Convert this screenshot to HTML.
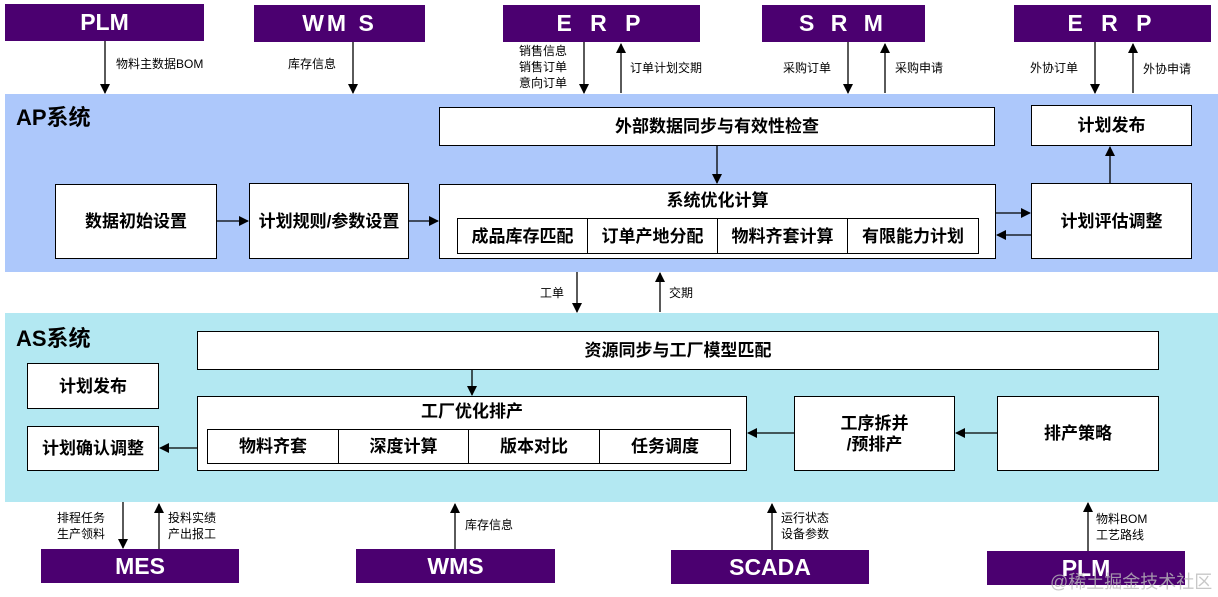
<!DOCTYPE html>
<html><head><meta charset="utf-8"><style>
body{margin:0;width:1218px;height:597px;position:relative;background:#fff;overflow:hidden;font-family:"Liberation Sans","Noto Sans CJK SC",sans-serif;}
.a{position:absolute;box-sizing:border-box;}
.p{background:#4b0070;color:#fff;font-weight:bold;font-size:23px;display:flex;align-items:center;justify-content:center;}
.b{background:#fff;border:1.5px solid #000;display:flex;align-items:center;justify-content:center;font-weight:bold;font-size:17px;color:#000;text-align:center;line-height:21px;}
.t{font-size:12px;color:#000;line-height:16px;white-space:nowrap;}
.h{font-weight:bold;font-size:22px;color:#000;}
</style></head><body>
<div class="a" style="left:5px;top:94px;width:1213px;height:178px;background:#adc8fb"></div>
<div class="a" style="left:5px;top:313px;width:1213px;height:189px;background:#b3e8f2"></div>
<div class="a h" style="left:16px;top:100px">AP系统</div>
<div class="a h" style="left:16px;top:321px">AS系统</div>

<div class="a p" style="left:5px;top:4px;width:199px;height:37px">PLM</div>
<div class="a p" style="left:254px;top:5px;width:171px;height:37px;letter-spacing:3px">WM S</div>
<div class="a p" style="left:503px;top:5px;width:197px;height:37px;letter-spacing:6px">E R P</div>
<div class="a p" style="left:762px;top:5px;width:163px;height:37px;letter-spacing:5px">S R M</div>
<div class="a p" style="left:1014px;top:5px;width:197px;height:37px;letter-spacing:6px">E R P</div>

<div class="a p" style="left:41px;top:549px;width:198px;height:34px">MES</div>
<div class="a p" style="left:356px;top:549px;width:199px;height:34px">WMS</div>
<div class="a p" style="left:671px;top:550px;width:198px;height:34px">SCADA</div>
<div class="a p" style="left:987px;top:551px;width:198px;height:34px">PLM</div>

<div class="a b" style="left:439px;top:107px;width:556px;height:39px">外部数据同步与有效性检查</div>
<div class="a b" style="left:1031px;top:105px;width:161px;height:41px">计划发布</div>
<div class="a b" style="left:55px;top:184px;width:162px;height:75px">数据初始设置</div>
<div class="a b" style="left:249px;top:183px;width:160px;height:76px">计划规则/参数设置</div>
<div class="a b" style="left:439px;top:184px;width:557px;height:75px;align-items:flex-start;padding-top:5px">系统优化计算</div>
<div class="a b" style="left:457px;top:218px;width:131px;height:36px">成品库存匹配</div>
<div class="a b" style="left:587px;top:218px;width:131px;height:36px">订单产地分配</div>
<div class="a b" style="left:717px;top:218px;width:131px;height:36px">物料齐套计算</div>
<div class="a b" style="left:847px;top:218px;width:132px;height:36px">有限能力计划</div>
<div class="a b" style="left:1031px;top:183px;width:161px;height:76px">计划评估调整</div>

<div class="a b" style="left:197px;top:331px;width:962px;height:39px">资源同步与工厂模型匹配</div>
<div class="a b" style="left:27px;top:363px;width:132px;height:46px">计划发布</div>
<div class="a b" style="left:27px;top:426px;width:132px;height:45px">计划确认调整</div>
<div class="a b" style="left:197px;top:396px;width:550px;height:75px;align-items:flex-start;padding-top:4px">工厂优化排产</div>
<div class="a b" style="left:207px;top:429px;width:132px;height:35px">物料齐套</div>
<div class="a b" style="left:338px;top:429px;width:131px;height:35px">深度计算</div>
<div class="a b" style="left:468px;top:429px;width:132px;height:35px">版本对比</div>
<div class="a b" style="left:599px;top:429px;width:132px;height:35px">任务调度</div>
<div class="a b" style="left:794px;top:396px;width:161px;height:75px">工序拆并<br>/预排产</div>
<div class="a b" style="left:997px;top:396px;width:162px;height:75px">排产策略</div>

<div class="a t" style="left:116px;top:56px">物料主数据BOM</div>
<div class="a t" style="left:288px;top:56px">库存信息</div>
<div class="a t" style="left:519px;top:43px">销售信息<br>销售订单<br>意向订单</div>
<div class="a t" style="left:630px;top:60px">订单计划交期</div>
<div class="a t" style="left:783px;top:60px">采购订单</div>
<div class="a t" style="left:895px;top:60px">采购申请</div>
<div class="a t" style="left:1030px;top:60px">外协订单</div>
<div class="a t" style="left:1143px;top:61px">外协申请</div>
<div class="a t" style="left:540px;top:285px">工单</div>
<div class="a t" style="left:669px;top:285px">交期</div>
<div class="a t" style="left:57px;top:510px">排程任务<br>生产领料</div>
<div class="a t" style="left:168px;top:510px">投料实绩<br>产出报工</div>
<div class="a t" style="left:465px;top:517px">库存信息</div>
<div class="a t" style="left:781px;top:510px">运行状态<br>设备参数</div>
<div class="a t" style="left:1096px;top:511px">物料BOM<br>工艺路线</div>
<div class="a" style="left:1050px;top:568px;font-size:18px;color:#bbb;opacity:.8;white-space:nowrap">@稀土掘金技术社区</div>

<svg class="a" style="left:0;top:0" width="1218" height="597">
<defs><marker id="m" markerWidth="10" markerHeight="10" refX="9" refY="5" orient="auto" markerUnits="userSpaceOnUse"><path d="M0,0L10,5L0,10z" fill="#000"/></marker></defs>
<g stroke="#000" stroke-width="1.3" fill="none" marker-end="url(#m)">
<line x1="105" y1="41" x2="105" y2="93"/>
<line x1="353" y1="42" x2="353" y2="93"/>
<line x1="584" y1="42" x2="584" y2="93"/>
<line x1="621" y1="93" x2="621" y2="44"/>
<line x1="848" y1="42" x2="848" y2="93"/>
<line x1="885" y1="93" x2="885" y2="44"/>
<line x1="1095" y1="42" x2="1095" y2="93"/>
<line x1="1133" y1="93" x2="1133" y2="44"/>
<line x1="217" y1="221" x2="248" y2="221"/>
<line x1="409" y1="221" x2="438" y2="221"/>
<line x1="717" y1="146" x2="717" y2="183"/>
<line x1="996" y1="213" x2="1030" y2="213"/>
<line x1="1031" y1="235" x2="997" y2="235"/>
<line x1="1110" y1="183" x2="1110" y2="147"/>
<line x1="577" y1="272" x2="577" y2="312"/>
<line x1="660" y1="312" x2="660" y2="273"/>
<line x1="472" y1="370" x2="472" y2="395"/>
<line x1="197" y1="448" x2="160" y2="448"/>
<line x1="794" y1="433" x2="748" y2="433"/>
<line x1="997" y1="433" x2="956" y2="433"/>
<line x1="123" y1="502" x2="123" y2="548"/>
<line x1="159" y1="549" x2="159" y2="504"/>
<line x1="455" y1="549" x2="455" y2="504"/>
<line x1="772" y1="550" x2="772" y2="504"/>
<line x1="1088" y1="551" x2="1088" y2="503"/>
</g></svg>
</body></html>
